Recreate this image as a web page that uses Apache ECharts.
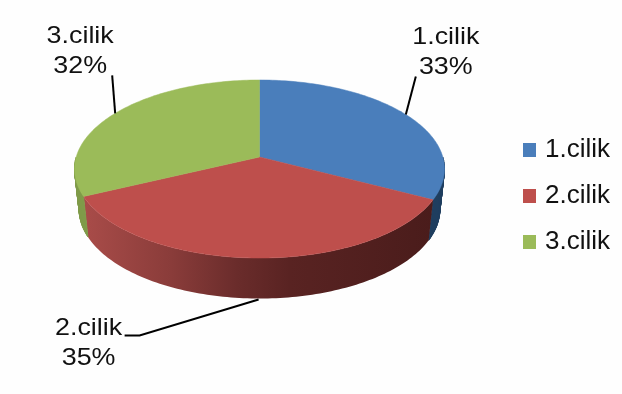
<!DOCTYPE html>
<html>
<head>
<meta charset="utf-8">
<style>html,body{margin:0;padding:0;background:#fefefe}#c{width:622px;height:394px}</style>
<script src="https://cdn.jsdelivr.net/npm/echarts@6/dist/echarts.min.js"></script>
</head>
<body>
<div id="c"></div>
<script>
const categories = ['1.cilik', '2.cilik', '3.cilik'];
const values = [32.6, 35.4, 32.0];
const topColors = ['#4a7ebb', '#be4f4c', '#9bbb59'];

const FONT = '"Liberation Sans", Arial, sans-serif';
const total = values.reduce((a, b) => a + b, 0);
const starts = [];
values.reduce((acc, v, i) => { starts[i] = acc; return acc + v; }, 0);

// perspective view of the pie disc
const view = { cx: 259.5, cy: 157, R: 183.3, A: 87.4, p: 0.135, depth: 40.5, shrink: 0.975 };
function rim(a) {
  const u = Math.sin(a), v = -Math.cos(a), d = 1 - view.p * v;
  return [view.cx + view.R * u / d, view.cy + view.A * v / d];
}
function lower(pt) {
  return [view.cx + (pt[0] - view.cx) * view.shrink, pt[1] + view.depth];
}
function arc(a0, a1) {
  const n = Math.max(2, Math.ceil((a1 - a0) / 0.02)), out = [];
  for (let i = 0; i <= n; i++) out.push(rim(a0 + (a1 - a0) * i / n));
  return out;
}
const sideFills = [
  '#1f3e5f',
  { type: 'linear', x: 0, y: 0, x2: 1, y2: 0, colorStops: [
    { offset: 0, color: '#a94c49' }, { offset: 0.25, color: '#8a3c3a' },
    { offset: 0.44, color: '#6a2c2b' }, { offset: 0.59, color: '#592322' }, { offset: 1, color: '#4a1c1b' } ] },
  '#7f9b49'
];
// label placement relative to each slice's mid-rim anchor: elbow, then text centre
const leaderOffsets = [
  { start: [0, 0], elbow: [10, -38], text: [40, -62], onRim: true },
  { start: [3, 1], elbow: [-119, 36], mid: [-134, 36], text: [-170, 44], onRim: false },
  { start: [0, 0], elbow: [-3, -38], text: [-35, -62], onRim: true }
];

function sideShapes(top, fill) {
  if (typeof fill !== 'string') {
    return [{ type: 'polygon', z2: 1, shape: { points: top.concat(top.map(lower).reverse()) }, style: { fill } }];
  }
  // only the front part of the rim can show below the top face
  const front = top.filter(pt => pt[1] > view.cy);
  const quads = [];
  for (let k = 0; k < front.length - 1; k++) {
    quads.push({ type: 'polygon', z2: 1,
      shape: { points: [front[k], front[k + 1], lower(front[k + 1]), lower(front[k])] },
      style: { fill, stroke: fill, lineWidth: 1 } });
  }
  return quads;
}

function makeRender(i) {
  return function (params, api) {
    const val = api.value(0);
    const a0 = starts[i] / total * 2 * Math.PI;
    const a1 = a0 + val / total * 2 * Math.PI;
    const top = arc(a0, a1);
    const mid = (a0 + a1) / 2;
    let anchor = rim(mid);
    const o = leaderOffsets[i];
    if (!o.onRim) anchor = lower(anchor);
    anchor = [anchor[0] + o.start[0], anchor[1] + o.start[1]];
    const pts = [anchor, [anchor[0] + o.elbow[0], anchor[1] + o.elbow[1]]];
    if (o.mid) pts.push([anchor[0] + o.mid[0], anchor[1] + o.mid[1]]);
    return {
      type: 'group',
      children: sideShapes(top, sideFills[i]).concat([
        { type: 'polygon', z2: 2, shape: { points: [[view.cx, view.cy]].concat(top) },
          style: { fill: topColors[i], stroke: topColors[i], lineWidth: 0.5 } },
        { type: 'polyline', z2: 3, shape: { points: pts }, style: { fill: null, stroke: '#000', lineWidth: 2 } },
        { type: 'text', z2: 4, x: anchor[0] + o.text[0], y: anchor[1] + o.text[1], scaleX: 1.12,
          style: { text: categories[i] + '\n' + Math.round(val / total * 100) + '%', fill: '#111',
            fontFamily: FONT, fontSize: 24, lineHeight: 30, align: 'center', verticalAlign: 'middle' } }
      ])
    };
  };
}

const chart = echarts.init(document.getElementById('c'), null, { renderer: 'canvas' });
chart.setOption({
  animation: false,
  backgroundColor: '#fefefe',
  legend: {
    orient: 'vertical', left: 523, top: 137, padding: 0, icon: 'rect',
    itemWidth: 13, itemHeight: 14, itemGap: 20, selectedMode: false,
    textStyle: { fontFamily: FONT, fontSize: 26, color: '#111', padding: [0, 0, 0, 4] },
    data: categories
  },
  series: categories.map((name, i) => ({
    type: 'custom', name, coordinateSystem: 'none', silent: true,
    itemStyle: { color: topColors[i] },
    renderItem: makeRender(i),
    data: [[values[i]]]
  }))
});
</script>
</body>
</html>
